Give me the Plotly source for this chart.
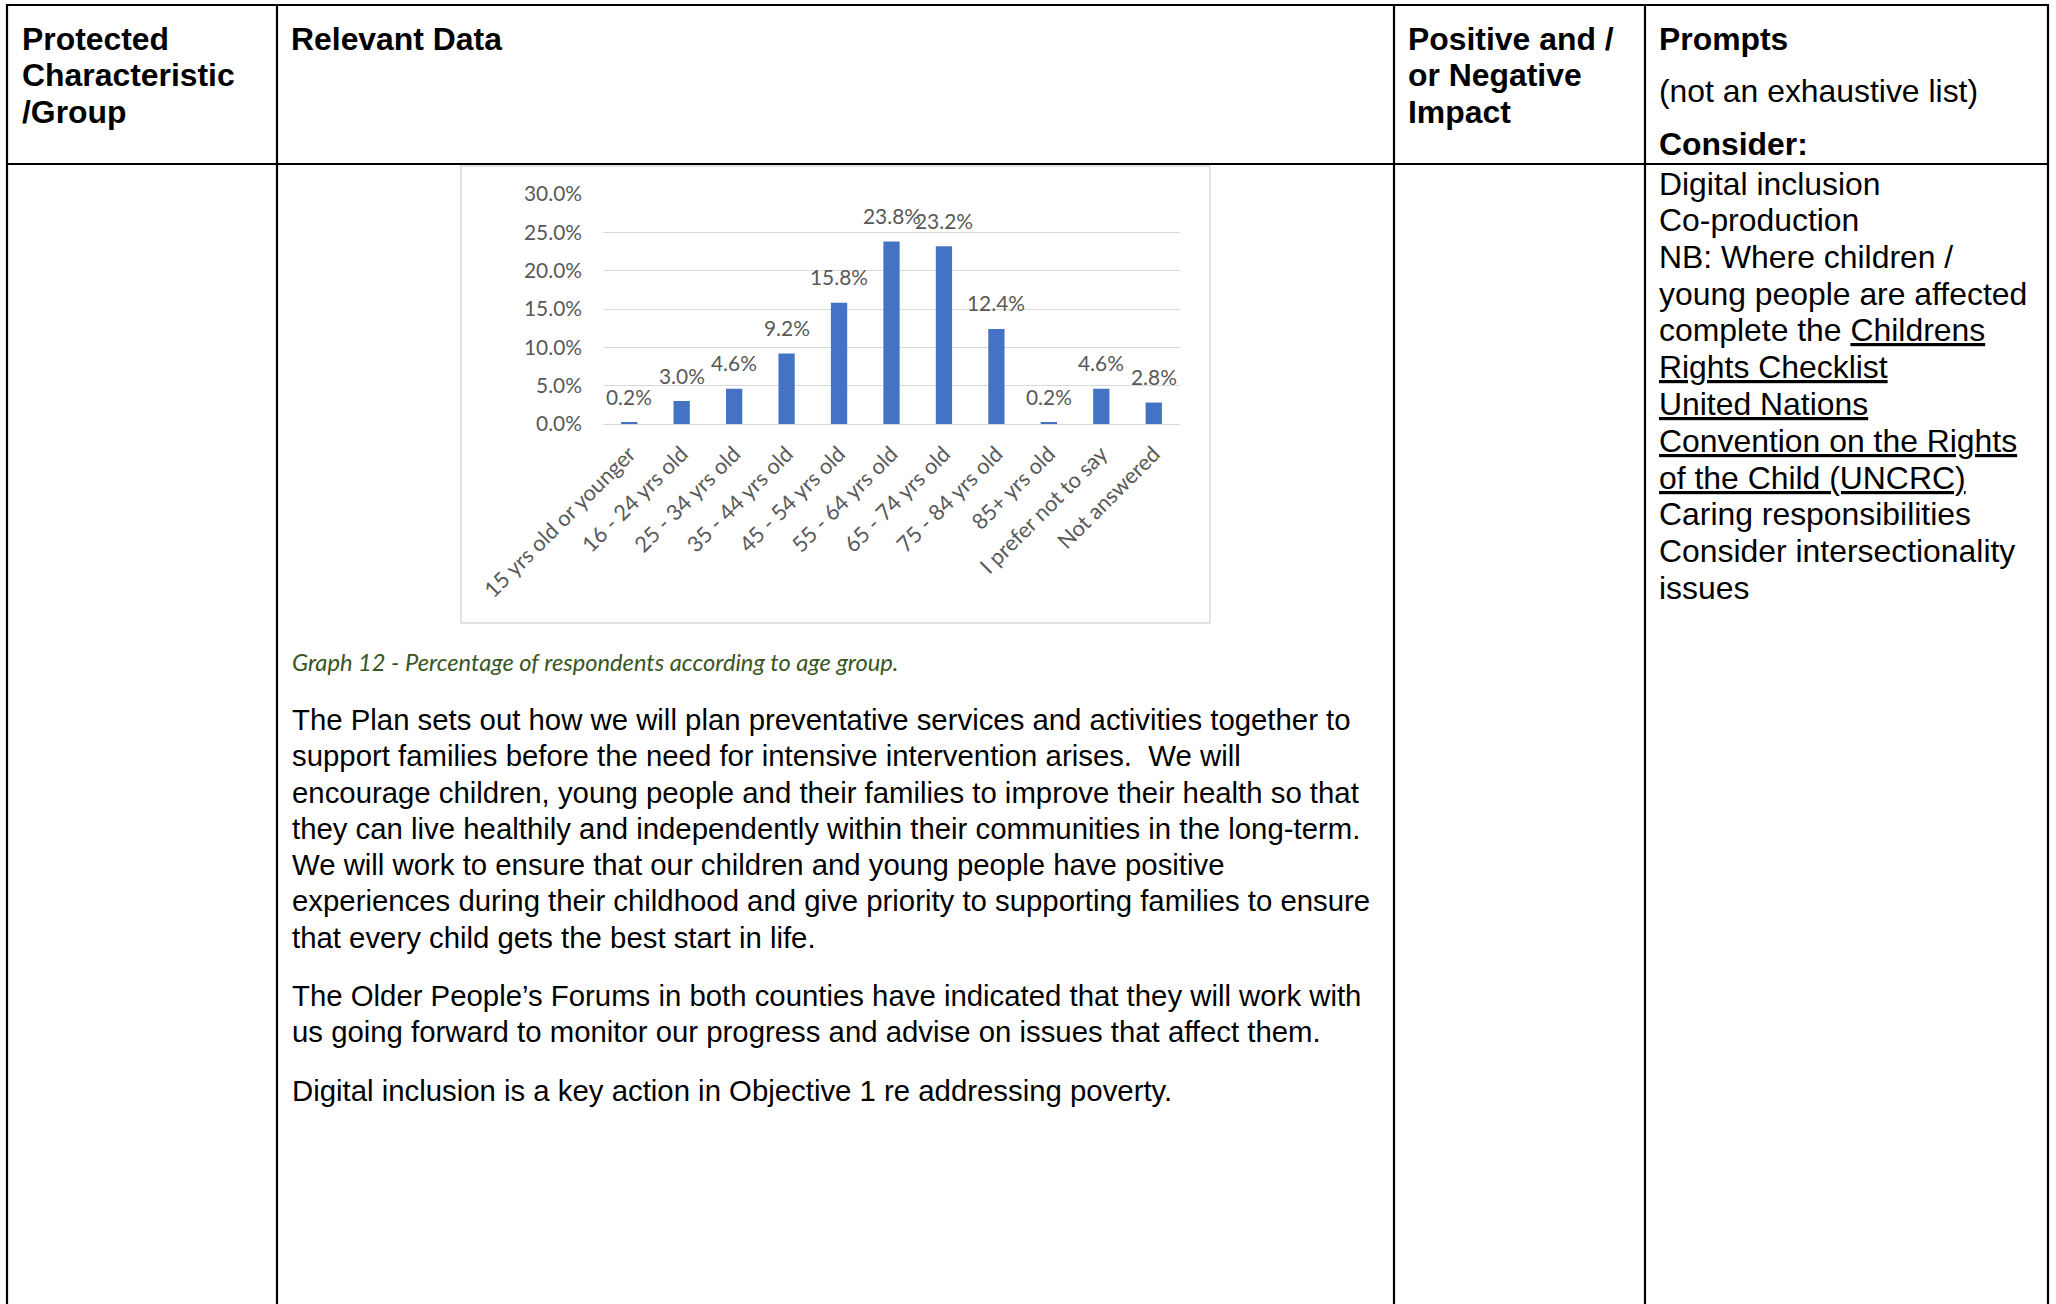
import plotly.graph_objects as go

W, H = 2056, 1304

# ---------------- data ----------------
categories = ["15 yrs old or younger", "16 - 24 yrs old", "25 - 34 yrs old",
              "35 - 44 yrs old", "45 - 54 yrs old", "55 - 64 yrs old",
              "65 - 74 yrs old", "75 - 84 yrs old", "85+ yrs old",
              "I prefer not to say", "Not answered"]
percentages = [0.2, 3.0, 4.6, 9.2, 15.8, 23.8, 23.2, 12.4, 0.2, 4.6, 2.8]
y_tick_values = [0, 5, 10, 15, 20, 25, 30]
y_tick_labels = ["0.0%", "5.0%", "10.0%", "15.0%", "20.0%", "25.0%", "30.0%"]

header_col1 = ["Protected", "Characteristic", "/Group"]
header_col2 = ["Relevant Data"]
header_col3 = ["Positive and /", "or Negative", "Impact"]
header_col4 = ["<b>Prompts</b>", "(not an exhaustive list)", "<b>Consider:</b>"]
prompt_lines = ["Digital inclusion", "Co-production", "NB: Where children /",
                "young people are affected", "complete the <u>Childrens</u>",
                "<u>Rights Checklist</u>", "<u>United Nations</u>",
                "<u>Convention on the Rights</u>", "<u>of the Child (UNCRC)</u>",
                "Caring responsibilities", "Consider intersectionality", "issues"]
caption = "Graph 12 - Percentage of respondents according to age group."
paragraph1 = ["The Plan sets out how we will plan preventative services and activities together to",
              "support families before the need for intensive intervention arises.\u00a0 We will",
              "encourage children, young people and their families to improve their health so that",
              "they can live healthily and independently within their communities in the long-term.",
              "We will work to ensure that our children and young people have positive",
              "experiences during their childhood and give priority to supporting families to ensure",
              "that every child gets the best start in life."]
paragraph2 = ["The Older People\u2019s Forums in both counties have indicated that they will work with",
              "us going forward to monitor our progress and advise on issues that affect them."]
paragraph3 = ["Digital inclusion is a key action in Objective 1 re addressing poverty."]

# ---------------- helpers ----------------
def fx(x):
    return x / W

def fy(y):
    return 1 - y / H

BODY_FONT = "Liberation Sans, Arial, sans-serif"
CHART_FONT = "Lato, Carlito, Calibri, sans-serif"
FS = 31.9      # 12pt header / prompts text
PFS = 29.35    # 11pt paragraph text
CFS = 20.9     # chart numbers
XFS = 21.8     # chart category labels
GRAY = "#595959"
GRID = "#D9D9D9"

fig = go.Figure()

fig.add_trace(go.Bar(
    x=categories, y=percentages,
    marker=dict(color="#4472C4", line=dict(width=0)),
    hoverinfo="skip",
))

annotations = []
# data labels
for c, v in zip(categories, percentages):
    annotations.append(dict(
        x=c, y=v, xref="x", yref="y", text=f"{v:.1f}%", showarrow=False,
        xanchor="center", yanchor="middle", yshift=26,
        font=dict(family=CHART_FONT, size=CFS, color=GRAY)))

def text_line(x, y, txt, bold=False, size=FS, family=BODY_FONT, color="black", italic=False):
    if bold:
        txt = f"<b>{txt}</b>"
    if italic:
        txt = f"<i>{txt}</i>"
    annotations.append(dict(
        x=fx(x - 2.5), y=fy(y - 1.5), xref="paper", yref="paper", text=txt, showarrow=False,
        xanchor="left", yanchor="middle",
        font=dict(family=family, size=size, color=color)))

LS = 36.7
for i, t in enumerate(header_col1):
    text_line(22, 40 + i * LS, t, bold=True)
for i, t in enumerate(header_col2):
    text_line(291, 40 + i * LS, t, bold=True)
for i, t in enumerate(header_col3):
    text_line(1408, 40 + i * LS, t, bold=True)
for t, y in zip(header_col4, [40, 93, 145.5]):
    text_line(1659, y, t)
for i, t in enumerate(prompt_lines):
    text_line(1659, 185 + i * 36.75, t)

text_line(292, 663.5, caption, family=CHART_FONT, size=23.7, color="#385623", italic=True)
for i, t in enumerate(paragraph1):
    text_line(292, 721 + i * 36.3, t, size=PFS)
for i, t in enumerate(paragraph2):
    text_line(292, 996.7 + i * 36.6, t, size=PFS)
for i, t in enumerate(paragraph3):
    text_line(292, 1091.5 + i * 36.6, t, size=PFS)

# table lines + chart frame
shapes = []
LW = 2.2
for y in [5, 164]:
    shapes.append(dict(type="line", xref="paper", yref="paper",
                       x0=fx(6), x1=fx(2049), y0=fy(y), y1=fy(y),
                       line=dict(color="black", width=LW)))
for x in [7, 277, 1394, 1645, 2048]:
    shapes.append(dict(type="line", xref="paper", yref="paper",
                       x0=fx(x), x1=fx(x), y0=fy(4), y1=fy(H + 5),
                       line=dict(color="black", width=LW)))
shapes.append(dict(type="rect", xref="paper", yref="paper",
                   x0=fx(461), x1=fx(1210), y0=fy(166), y1=fy(623),
                   line=dict(color=GRID, width=1.5), layer="below"))

fig.update_layout(
    width=W, height=H, autosize=False,
    margin=dict(l=0, r=0, t=0, b=0, autoexpand=False),
    paper_bgcolor="white", plot_bgcolor="white",
    showlegend=False,
    bargap=0.69,
    annotations=annotations,
    shapes=shapes,
    xaxis=dict(domain=[fx(603), fx(1180)], type="category",
               automargin=False,
               showgrid=False, showline=False, zeroline=False,
               tickangle=-45, ticks="",
               tickfont=dict(family=CHART_FONT, size=XFS, color=GRAY),
               ticklabelstandoff=12),
    yaxis=dict(domain=[fy(424), fy(194)], range=[0, 30],
               automargin=False,
               tickvals=y_tick_values, ticktext=y_tick_labels,
               showgrid=True, gridcolor=GRID, gridwidth=1.3,
               zeroline=True, zerolinecolor=GRID, zerolinewidth=1.3,
               showline=False, ticks="",
               tickfont=dict(family=CHART_FONT, size=CFS, color=GRAY),
               ticklabelstandoff=20),
)

fig.write_html("out.html", config={"displayModeBar": False},
               post_script="document.body.style.margin='0';document.body.style.overflow='hidden';")
